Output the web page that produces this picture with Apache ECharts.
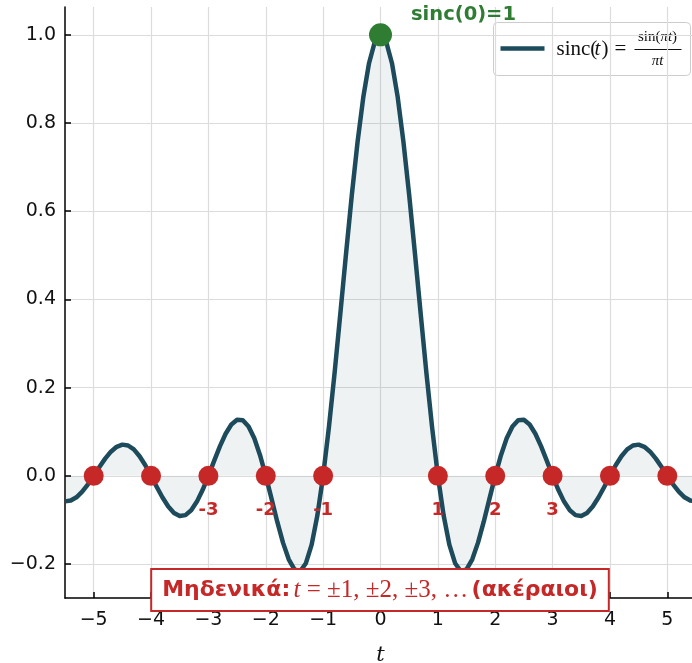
<!DOCTYPE html>
<html>
<head>
<meta charset="utf-8">
<script src="https://cdn.jsdelivr.net/npm/echarts@6/dist/echarts.min.js"></script>
<style>
html,body{margin:0;padding:0;background:#fff;}
#chart{width:692px;height:663px;}
</style>
</head>
<body>
<div id="chart"></div>
<script>
// ---- data ----
const tValues = [-5.5,-5.4,-5.3,-5.2,-5.1,-5.0,-4.9,-4.8,-4.7,-4.6,-4.5,-4.4,-4.3,-4.2,-4.1,-4.0,-3.9,-3.8,-3.7,-3.6,-3.5,-3.4,-3.3,-3.2,-3.1,-3.0,
  -2.9,-2.8,-2.7,-2.6,-2.5,-2.4,-2.3,-2.2,-2.1,-2.0,-1.9,-1.8,-1.7,-1.6,-1.5,-1.4,-1.3,-1.2,-1.1,-1.0,-0.9,-0.8,-0.7,-0.6,-0.5,-0.4,-0.3,-0.2,-0.1,0,
  0.1,0.2,0.3,0.4,0.5,0.6,0.7,0.8,0.9,1.0,1.1,1.2,1.3,1.4,1.5,1.6,1.7,1.8,1.9,2.0,2.1,2.2,2.3,2.4,2.5,2.6,2.7,2.8,2.9,3.0,
  3.1,3.2,3.3,3.4,3.5,3.6,3.7,3.8,3.9,4.0,4.1,4.2,4.3,4.4,4.5,4.6,4.7,4.8,4.9,5.0,5.1,5.2,5.3,5.4,5.5];
const sincValues = [-0.05787,-0.05606,-0.04859,-0.03598,-0.01929,0,0.02007,0.03898,0.05479,0.06581,0.07074,0.06880,0.05989,0.04455,0.02399,0,
  -0.02522,-0.04924,-0.06960,-0.08409,-0.09095,-0.08904,-0.07804,-0.05847,-0.03173,0,0.03392,0.06682,0.09538,0.11643,0.12732,0.12614,0.11196,0.08505,0.04684,0,
  -0.05177,-0.10394,-0.15148,-0.18921,-0.21221,-0.21624,-0.19809,-0.15592,-0.08942,0,0.10929,0.23387,0.36788,0.50455,0.63662,0.75683,0.85839,0.93549,0.98363,1,
  0.98363,0.93549,0.85839,0.75683,0.63662,0.50455,0.36788,0.23387,0.10929,0,-0.08942,-0.15592,-0.19809,-0.21624,-0.21221,-0.18921,-0.15148,-0.10394,-0.05177,0,
  0.04684,0.08505,0.11196,0.12614,0.12732,0.11643,0.09538,0.06682,0.03392,0,-0.03173,-0.05847,-0.07804,-0.08904,-0.09095,-0.08409,-0.06960,-0.04924,-0.02522,0,
  0.02399,0.04455,0.05989,0.06880,0.07074,0.06581,0.05479,0.03898,0.02007,0,-0.01929,-0.03598,-0.04859,-0.05606,-0.05787];
const zeroT = [-5,-4,-3,-2,-1,1,2,3,4,5];
const zeroLabels = ['','','-3','-2','-1','1','2','3','',''];
const peakPoint = [0, 1];
const peakLabel = 'sinc(0)=1';
const xTicks = [-5,-4,-3,-2,-1,0,1,2,3,4,5];
const yTicks = [-0.2,0,0.2,0.4,0.6,0.8,1.0];
const xRange = [-5.5, 5.5];
const yRange = [-0.277, 1.063];
const zerosNote = ['Μηδενικά:', 't', ' = ±1, ±2, ±3, …', '(ακέραιοι)'];

const chart = echarts.init(document.getElementById('chart'));
const minus = s => String(s).replace('-', '\u2212');
const LINE = '#1d4b5c';
const RED = '#c62828';
const GREEN = '#2e7d32';
const tickFont = {fontFamily: 'DejaVu Sans', fontSize: 19, color: '#111'};

const option = {
  animation: false,
  grid: {left: 65, right: -4, top: 7, bottom: 65, containLabel: false, outerBoundsMode: 'none'},
  xAxis: {
    type: 'value', min: xRange[0], max: xRange[1],
    name: 't', nameLocation: 'middle', nameGap: 47,
    nameTextStyle: {fontFamily: 'DejaVu Serif', fontStyle: 'italic', fontSize: 21, color: '#111'},
    axisLine: {show: true, onZero: false, lineStyle: {color: '#000', width: 1.5}},
    axisTick: {show: true, inside: true, length: 6, customValues: xTicks, lineStyle: {color: '#000', width: 1.5}},
    axisLabel: Object.assign({customValues: xTicks, margin: 13, formatter: v => minus(v)}, tickFont),
    splitLine: {show: true, customValues: xTicks, lineStyle: {color: '#dcdcdc', width: 1.2}}
  },
  yAxis: {
    type: 'value', min: yRange[0], max: yRange[1],
    axisLine: {show: true, onZero: false, lineStyle: {color: '#000', width: 1.5}},
    axisTick: {show: true, inside: true, length: 6, customValues: yTicks, lineStyle: {color: '#000', width: 1.5}},
    axisLabel: Object.assign({customValues: yTicks, margin: 9, formatter: v => minus(v.toFixed(1))}, tickFont),
    splitLine: {show: true, customValues: yTicks, lineStyle: {color: '#dcdcdc', width: 1.2}}
  },
  series: [
    {
      name: 'sinc', type: 'line', smooth: false, showSymbol: false, symbol: 'none',
      data: tValues.map((t, i) => [t, sincValues[i]]),
      lineStyle: {color: LINE, width: 4.5, join: 'round'},
      areaStyle: {color: 'rgba(29,75,92,0.10)', origin: 0},
      z: 2
    },
    {
      name: 'zeros', type: 'scatter', symbolSize: 20,
      itemStyle: {color: RED, opacity: 1},
      data: zeroT.map((t, i) => ({value: [t, 0], label: {show: zeroLabels[i] !== '', formatter: zeroLabels[i]}})),
      label: {position: 'bottom', distance: 15, color: RED, fontFamily: 'DejaVu Sans', fontWeight: 'bold', fontSize: 18},
      z: 4
    },
    {
      name: 'peak', type: 'scatter', symbolSize: 23,
      itemStyle: {color: GREEN, opacity: 1},
      data: [peakPoint],
      label: {show: true, formatter: peakLabel, position: 'right', distance: 5, offset: [14, -20],
        color: GREEN, fontFamily: 'DejaVu Sans', fontWeight: 'bold', fontSize: 19.5},
      z: 5
    }
  ],
  graphic: [
    {
      type: 'group', left: 493, top: 22, z: 100,
      children: [
        {type: 'rect', shape: {x: 0, y: 0, width: 197, height: 53, r: 4},
          style: {fill: 'rgba(255,255,255,0.85)', stroke: '#cccccc', lineWidth: 1}},
        {type: 'line', shape: {x1: 7, y1: 26, x2: 51, y2: 26}, style: {stroke: LINE, lineWidth: 4.5}},
        {type: 'text', x: 63, y: 27, style: {text: 'sinc(', font: '21px "Liberation Serif"', fill: '#111', verticalAlign: 'middle'}},
        {type: 'text', x: 101, y: 27, style: {text: 't', font: 'italic 21px "Liberation Serif"', fill: '#111', verticalAlign: 'middle'}},
        {type: 'text', x: 108, y: 27, style: {text: ')', font: '21px "Liberation Serif"', fill: '#111', verticalAlign: 'middle'}},
        {type: 'text', x: 121, y: 27, style: {text: '=', font: '21px "Liberation Serif"', fill: '#111', verticalAlign: 'middle'}},
        {type: 'text', x: 164, y: 15, style: {
          text: '{u|sin(}{i|πt}{u|)}', align: 'center', verticalAlign: 'middle',
          rich: {u: {fontFamily: 'Liberation Serif', fontSize: 15, fill: '#111'},
                 i: {fontFamily: 'Liberation Serif', fontStyle: 'italic', fontSize: 15, fill: '#111'}}}},
        {type: 'line', shape: {x1: 141, y1: 27, x2: 188, y2: 27}, style: {stroke: '#111', lineWidth: 1}},
        {type: 'text', x: 164, y: 39, style: {text: 'πt', font: 'italic 15px "Liberation Serif"', fill: '#111', align: 'center', verticalAlign: 'middle'}}
      ]
    },
    {
      type: 'text', x: 380, y: 590, z: 100,
      style: {
        text: '{a|' + zerosNote[0] + '} {mi|' + zerosNote[1] + '}{m|' + zerosNote[2] + '} {a|' + zerosNote[3] + '}',
        align: 'center', verticalAlign: 'middle',
        backgroundColor: '#fff', borderColor: RED, borderWidth: 2, padding: [8, 10, 7, 10],
        rich: {
          a: {fontFamily: 'DejaVu Sans', fontWeight: 'bold', fontSize: 22, fill: RED},
          mi: {fontFamily: 'Liberation Serif', fontStyle: 'italic', fontSize: 25, fill: RED},
          m: {fontFamily: 'Liberation Serif', fontSize: 25, fill: RED}
        }
      }
    }
  ]
};
chart.setOption(option);
</script>
</body>
</html>
